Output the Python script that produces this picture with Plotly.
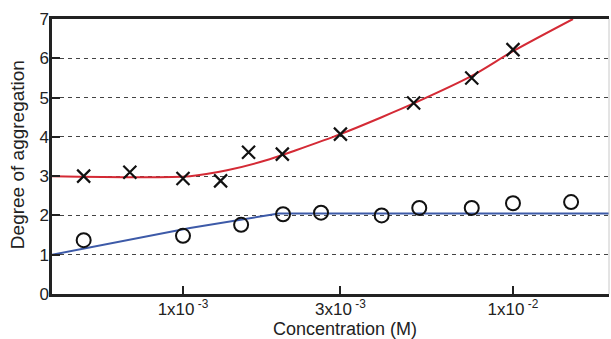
import plotly.graph_objects as go

# Data
cross_conc = [5.0e-4, 6.9e-4, 1.0e-3, 1.3e-3, 1.58e-3, 2.0e-3, 3.0e-3, 5.0e-3, 7.5e-3, 1.0e-2]
cross_deg = [3.0, 3.1, 2.94, 2.88, 3.61, 3.56, 4.07, 4.86, 5.5, 6.22]

circle_conc = [5.0e-4, 1.0e-3, 1.5e-3, 2.01e-3, 2.62e-3, 4.0e-3, 5.2e-3, 7.5e-3, 1.0e-2, 1.5e-2]
circle_deg = [1.37, 1.48, 1.76, 2.03, 2.07, 2.0, 2.19, 2.19, 2.31, 2.34]

red_conc = [4.0e-4, 1.05e-3, 1.36e-3, 1.83e-3, 2.2e-3, 3.0e-3, 4.0e-3, 5.0e-3, 7.5e-3, 1.0e-2, 1.52e-2]
red_deg = [3.0, 3.0, 3.15, 3.43, 3.66, 4.07, 4.5, 4.85, 5.55, 6.18, 7.0]

blue_conc = [4.0e-4, 1.05e-3, 1.95e-3, 2.0e-2]
blue_deg = [1.0, 1.68, 2.05, 2.05]

tick_vals = [1e-3, 3e-3, 1e-2]
tick_text = ["1x10<sup> -3</sup>", "3x10<sup> -3</sup>", "1x10<sup> -2</sup>"]

x_title = "Concentration (M)"
y_title = "Degree of aggregation"

font_family = "Liberation Sans, Arial, sans-serif"

fig = go.Figure()
fig.add_trace(go.Scatter(x=red_conc, y=red_deg, mode="lines",
                         line=dict(color="#d42a35", width=2, shape="spline", smoothing=0.8),
                         showlegend=False, hoverinfo="skip"))
fig.add_trace(go.Scatter(x=blue_conc, y=blue_deg, mode="lines",
                         line=dict(color="#3d5aa8", width=2),
                         showlegend=False, hoverinfo="skip"))
fig.add_trace(go.Scatter(x=cross_conc, y=cross_deg, mode="markers",
                         marker=dict(symbol="x-thin", size=13, line=dict(color="#111", width=2.2)),
                         showlegend=False))
fig.add_trace(go.Scatter(x=circle_conc, y=circle_deg, mode="markers",
                         marker=dict(symbol="circle-open", size=14, color="#111", line=dict(color="#111", width=2)),
                         showlegend=False))

fig.update_layout(
    width=611, height=339,
    margin=dict(l=52, r=2, t=19, b=45),
    paper_bgcolor="white", plot_bgcolor="white",
    font=dict(family=font_family, color="#222", size=16),
    xaxis=dict(
        type="log", range=[-3.397, -1.709], automargin=False,
        tickvals=tick_vals, ticktext=tick_text,
        ticks="inside", ticklen=8, tickwidth=2, tickcolor="#222",
        showline=True, linecolor="#222", linewidth=2.5, mirror=True,
        showgrid=False, zeroline=False,
        tickfont=dict(size=17), ticklabelstandoff=-2,
    ),
    yaxis=dict(
        range=[0, 7], dtick=1, automargin=False,
        ticks="inside", ticklen=8, tickwidth=2, tickcolor="#222",
        showline=True, linecolor="#222", linewidth=2.5,
        showgrid=True, gridcolor="#444", gridwidth=1.3, griddash="4px,4px",
        zeroline=False,
        tickfont=dict(size=17), ticklabelstandoff=-3,
    ),
    annotations=[
        dict(text=x_title, xref="paper", yref="paper", x=0.526, y=-0.128,
             xanchor="center", yanchor="middle", showarrow=False, font=dict(size=18)),
        dict(text=y_title, xref="paper", yref="paper", x=-0.0628, y=0.505,
             xanchor="center", yanchor="middle", textangle=-90, showarrow=False, font=dict(size=19)),
    ],
    shapes=[dict(type="line", xref="paper", yref="paper", x0=1, x1=1, y0=0, y1=1,
                 line=dict(color="#c8c8c8", width=1))],
)

fig.write_html("out.html", config={"displayModeBar": False},
               post_script="document.body.style.margin='0';document.body.style.padding='0';document.body.style.overflow='hidden';")
